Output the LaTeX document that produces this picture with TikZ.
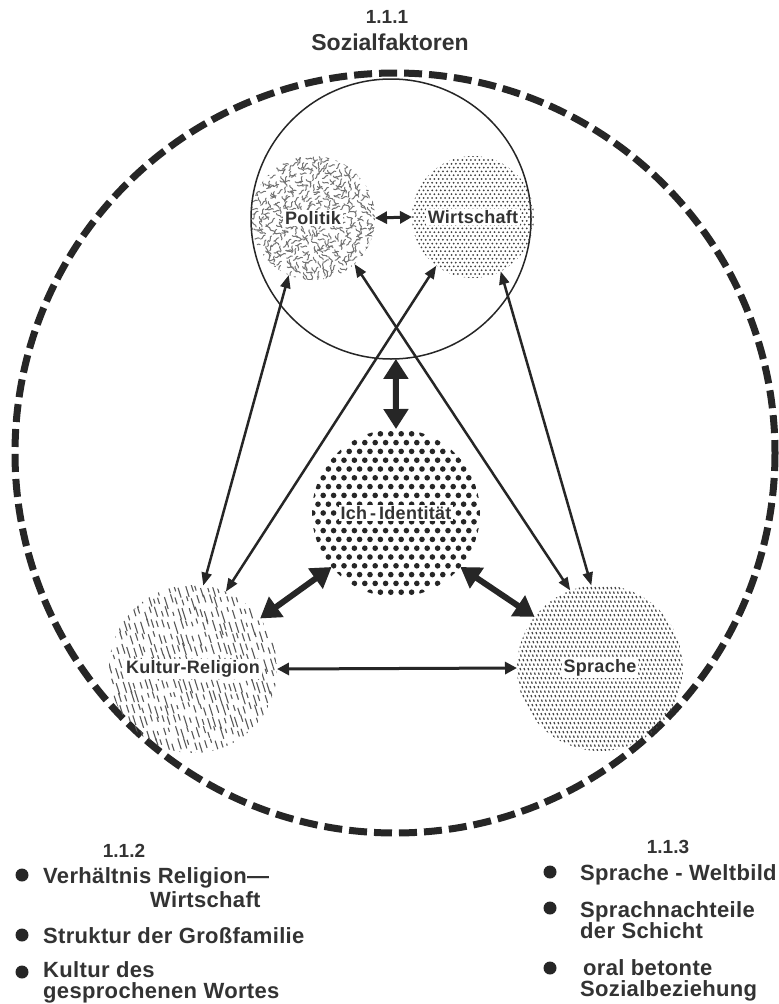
\documentclass[tikz,border=0pt]{standalone}
\usepackage{fontspec}
\setmainfont{Liberation Sans}
\newfontfamily\bodyfont[LetterSpace=1.5]{Liberation Sans}
\usetikzlibrary{arrows.meta}
\definecolor{ink}{gray}{0.15}
\definecolor{txt}{gray}{0.2}
\begin{document}
\begin{tikzpicture}[x=1pt,y=-1pt,
  area/.style={circle, minimum size=#1, inner sep=0pt, outer sep=0pt},
  lbl/.style={font=\bodyfont\bfseries\fontsize{18}{18}\selectfont, text=txt, fill=white, inner sep=1.8pt},
  body/.style={font=\bodyfont\bfseries\fontsize{22}{22}\selectfont, text=txt, inner sep=0pt, anchor=base west},
  head/.style={font=\bfseries\fontsize{19}{19}\selectfont, text=txt, inner sep=0pt, anchor=base},
  bullet/.style={circle, fill=ink, minimum size=13pt, inner sep=0pt},
  link/.style={draw=ink, line width=2.5pt, {Triangle[length=13pt,width=10pt]}-{Triangle[length=13pt,width=10pt]}},
  midlink/.style={draw=ink, line width=3pt, {Triangle[length=12pt,width=12pt]}-{Triangle[length=12pt,width=12pt]}},
  biglink/.style={draw=ink, line width=6pt, {Triangle[length=20pt,width=24pt]}-{Triangle[length=20pt,width=24pt]}},
  squig/.style={draw=black!55, line width=1.0pt, line cap=round},
  kstroke/.style={draw=black!65, line width=1.1pt},
  sdot/.style={draw=black!75, line width=1.2pt},
]
\useasboundingbox (0,0) rectangle (779,1004);
\fill[white] (0,0) rectangle (779,1004);
\pgfmathsetseed{4711}

% ---------- outer dashed circle and top circle
\draw[ink, line width=7pt, dash pattern=on 18pt off 7pt] (395,453) circle[radius=380];
\node[area=280pt, draw=ink, line width=1.5pt] (soz) at (391,219) {};

% ---------- Politik texture (squiggles)
\begin{scope}
\clip (313,218) circle[radius=62];
\foreach \i in {-12,...,12}{
  \foreach \j in {-12,...,12}{
    \pgfmathsetmacro{\px}{313+\i*5.4+rand*2}
    \pgfmathsetmacro{\py}{218+\j*5.4+rand*2}
    \pgfmathsetmacro{\ang}{rnd*180}
    \draw[squig] (\px,\py) .. controls +(\ang+50:2.5) and +(\ang+230:2.5) .. ++(\ang:6);
  }
}
\end{scope}

% ---------- Wirtschaft texture (fine dots)
\begin{scope}
\clip (473,217) circle[radius=61];
\foreach \j in {-17,...,17}{
  \foreach \i in {-15,...,15}{
    \pgfmathsetmacro{\px}{473+\i*4.3+mod(abs(\j),2)*2.15}
    \pgfmathsetmacro{\py}{217+\j*3.8}
    \fill[black!75] (\px,\py) circle[radius=1.0];
  }
}
\end{scope}

% ---------- Ich texture (big dots)
\begin{scope}
\clip (396,513) circle[radius=84];
\foreach \j in {-10,...,10}{
  \foreach \i in {-9,...,9}{
    \pgfmathsetmacro{\px}{396+\i*10.4+mod(abs(\j),2)*5.2}
    \pgfmathsetmacro{\py}{513+\j*8.8}
    \fill[ink] (\px,\py) circle[radius=2.8];
  }
}
\end{scope}

% ---------- Kultur texture (slanted strokes)
\begin{scope}
\clip (193,669) circle[radius=84];
\foreach \j in {-8,...,8}{
  \foreach \i in {-18,...,18}{
    \pgfmathsetmacro{\px}{193+\i*5.6-\j*3.6+rand*1.2}
    \pgfmathsetmacro{\py}{669+\j*12+rand*3}
    \pgfmathsetmacro{\len}{4+rnd*9}
    \draw[kstroke] (\px,\py) -- ++(0.3*\len,0.95*\len);
  }
}
\end{scope}

% ---------- Sprache texture (dense dot rows)
\begin{scope}
\clip (600,668) circle[radius=83];
\foreach \j in {-19,...,19}{
  \foreach \i in {-25,...,25}{
    \pgfmathsetmacro{\px}{600+\i*4-\j*1.5}
    \pgfmathsetmacro{\py}{668+\j*4.5}
    \draw[sdot] (\px,\py) -- ++(0.7,2.2);
  }
}
\end{scope}

% ---------- named circle nodes
\node[area=124pt] (pol) at (313,218) {};
\node[area=122pt] (wir) at (473,217) {};
\node[area=168pt] (ich) at (396,513) {};
\node[area=168pt] (kul) at (193,669) {};
\node[area=166pt] (spr) at (600,668) {};

% ---------- labels
\node[lbl] (polL) at (pol) {Politik};
\node[lbl] (wirL) at (wir) {Wirtschaft};
\node[lbl] (ichL) at (ich) {Ich\,-\,Identität};
\node[lbl] (kulL) at (kul) {Kultur-Religion};
\node[lbl] (sprL) at (spr) {Sprache};

% ---------- connectors
\draw[midlink] (pol.east) -- (wir.west);
\draw[midlink] (kul.east) -- (spr.west);
\draw[link] (pol.247) -- (kul.83);
\draw[link] (wir.233) -- (kul.67);
\draw[link] (pol.312) -- (spr.111);
\draw[link] (wir.297) -- (spr.96);
\draw[biglink] (soz.272) -- (ich.90);
\draw[biglink] (ich.220) -- (kul.37);
\draw[biglink] (ich.320) -- (spr.142);

% ---------- title
\node[head] (t1) at (387,23) {1.1.1};
\node[head, font=\bfseries\fontsize{23}{23}\selectfont] (t2) at (390,50) {Sozialfaktoren};

% ---------- bottom left
\node[head] (h2) at (124,857) {1.1.2};
\node[bullet] (bl1) at (22,875) {};
\node[body] (l1a) at (43,883) {Verhältnis Religion—};
\node[body] (l1b) at (150,907) {Wirtschaft};
\node[bullet] (bl2) at (22,935) {};
\node[body] (l2) at (43,943) {Struktur der Großfamilie};
\node[bullet] (bl3) at (22,972) {};
\node[body] (l3a) at (43,977) {Kultur des};
\node[body] (l3b) at (43,998) {gesprochenen Wortes};

% ---------- bottom right
\node[head] (h3) at (668,853) {1.1.3};
\node[bullet] (br1) at (550,872) {};
\node[body] (r1) at (580,880) {Sprache - Weltbild};
\node[bullet] (br2) at (550,908) {};
\node[body] (r2a) at (580,917) {Sprachnachteile};
\node[body] (r2b) at (580,938) {der Schicht};
\node[bullet] (br3) at (550,968) {};
\node[body] (r3a) at (583,975) {oral betonte};
\node[body] (r3b) at (580,996) {Sozialbeziehung};
\end{tikzpicture}
\end{document}
